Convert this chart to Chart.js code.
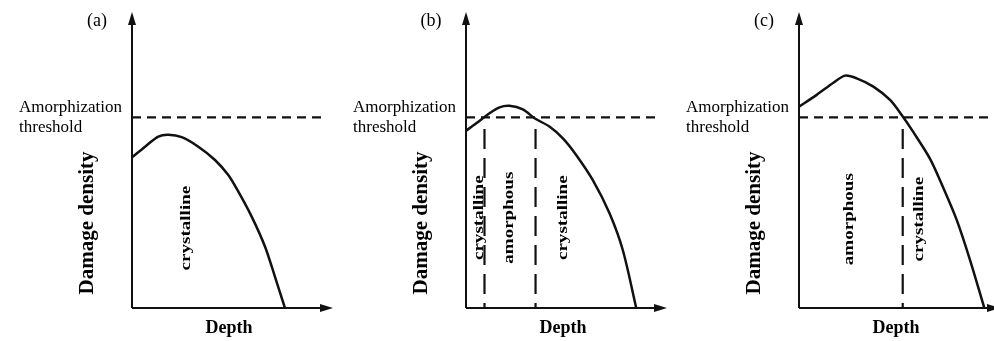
<!DOCTYPE html>
<html>
<head>
<meta charset="utf-8">
<script src="https://cdn.jsdelivr.net/npm/chart.js@4.4.1/dist/chart.umd.min.js"></script>
<style>
  html, body { margin: 0; padding: 0; background: #fff; overflow: hidden; }
  body { width: 994px; height: 341px; position: relative; }
  canvas { position: absolute; top: 0; }
</style>
</head>
<body>
<canvas id="panelA" width="340" height="341" style="left:0px"></canvas>
<canvas id="panelB" width="340" height="341" style="left:334px"></canvas>
<canvas id="panelC" width="340" height="341" style="left:667px"></canvas>
<script>
// damage profiles: depth vs damage density, both in relative units (0-100)
const depthA  = [0, 6.5, 13.1, 18.1, 24.7, 33, 41.3, 47.9, 52.9, 59.6, 66.2, 71.1, 76.1];
const damageA = [50.9, 54.5, 57.9, 58.5, 57.7, 54.5, 50, 44.9, 39.3, 30.8, 20.7, 10.6, 0];

const depthB  = [0, 5.1, 11.7, 16.7, 21.6, 28.3, 34.1, 41.5, 48.2, 54.8, 63.1, 71.4, 78, 84.7];
const damageB = [59.9, 62.4, 65.8, 67.8, 68.3, 67.1, 64.1, 61.3, 57.3, 51.7, 43.2, 32, 19.6, 0];

const depthC  = [0, 8.8, 17.1, 22.9, 28.7, 37, 45.3, 51.1, 56.9, 65.2, 71.8, 78.5, 85.1, 92.2];
const damageC = [68, 72, 76.1, 78.5, 77.6, 74.8, 70.3, 65.2, 59.4, 50.4, 40.6, 29.7, 16.2, 0];

// amorphization threshold level and how far the dashed line runs
const threshold = 64.4;
const thresholdEnd = [96, 96.5, 100];

// amorphous / crystalline boundaries (depth) and where they start
const boundariesA = [];
const boundariesB = [9.2, 34.6];
const boundariesC = [51.6];
const boundaryTop = 60.5;

const panelTags = ['(a)', '(b)', '(c)'];

const regionNamesA = ['crystalline'];
const regionDepthA = [27];
const regionNamesB = ['crystalline', 'amorphous', 'crystalline'];
const regionDepthB = [6.7, 21.6, 48.5];
const regionNamesC = ['amorphous', 'crystalline'];
const regionDepthC = [24.9, 59.7];
const regionLevel = [27, 30.5, 30];

const ink = '#111';
const serif = '"Liberation Serif", "DejaVu Serif", serif';

function arrowHead(ctx, x, y, dir) {
    ctx.beginPath();
    if (dir === 'up') {
        ctx.moveTo(x, y);
        ctx.lineTo(x - 4, y + 13);
        ctx.lineTo(x + 4, y + 13);
    } else {
        ctx.moveTo(x, y);
        ctx.lineTo(x - 13, y - 4);
        ctx.lineTo(x - 13, y + 4);
    }
    ctx.closePath();
    ctx.fill();
}

// axes with arrows plus all the labels
const frame = {
    id: 'frame',
    afterDatasetsDraw(chart, args, opts) {
        const ctx = chart.ctx;
        const xs = chart.scales.x, ys = chart.scales.y;
        const ox = xs.getPixelForValue(0), oy = ys.getPixelForValue(0);
        const top = ys.getPixelForValue(100), right = xs.getPixelForValue(100);

        ctx.save();
        ctx.strokeStyle = ink;
        ctx.fillStyle = ink;
        ctx.lineWidth = 2;
        ctx.setLineDash([]);
        ctx.beginPath();
        ctx.moveTo(ox, oy);
        ctx.lineTo(ox, top + 10);
        ctx.moveTo(ox, oy);
        ctx.lineTo(right - 10, oy);
        ctx.stroke();
        arrowHead(ctx, ox, top, 'up');
        arrowHead(ctx, right, oy, 'right');

        ctx.fillStyle = '#000';
        ctx.textBaseline = 'alphabetic';
        ctx.textAlign = 'center';
        ctx.font = '18px ' + serif;
        ctx.fillText(opts.tag, ox - 35, 26);

        ctx.textAlign = 'left';
        ctx.font = '17px ' + serif;
        ctx.fillText('Amorphization', ox - 113, 112);
        ctx.fillText('threshold', ox - 113, 132);

        ctx.textAlign = 'center';
        ctx.font = 'bold 18px ' + serif;
        ctx.fillText('Depth', ox + 97, 333);

        ctx.save();
        ctx.translate(ox - 44, 223);
        ctx.rotate(-Math.PI / 2);
        ctx.textBaseline = 'middle';
        ctx.font = 'bold 21px ' + serif;
        ctx.fillText('Damage density', 0, 0);
        ctx.restore();

        ctx.font = 'bold 15px ' + serif;
        ctx.textBaseline = 'middle';
        opts.regions.forEach((name, i) => {
            ctx.save();
            ctx.translate(xs.getPixelForValue(opts.regionDepth[i]), ys.getPixelForValue(opts.level));
            ctx.rotate(-Math.PI / 2);
            ctx.scale(1.27, 1);
            ctx.fillText(name, 0, 0);
            ctx.restore();
        });
        ctx.restore();
    }
};

function makePanel(id, depth, damage, idx, boundaries, regions, regionDepth) {
    const datasets = [{
        data: depth.map((d, i) => ({ x: d, y: damage[i] })),
        borderColor: ink,
        borderWidth: 2.5,
        tension: 0.3,
        showLine: true,
        pointRadius: 0,
        clip: false
    }, {
        data: [{ x: 0, y: threshold }, { x: thresholdEnd[idx], y: threshold }],
        borderColor: ink,
        borderWidth: 2.2,
        borderDash: [9, 6],
        showLine: true,
        pointRadius: 0,
        clip: false
    }];
    boundaries.forEach(b => {
        datasets.push({
            data: [{ x: b, y: boundaryTop }, { x: b, y: 0 }],
            borderColor: ink,
            borderWidth: 2.2,
            borderDash: [20, 9],
            showLine: true,
            pointRadius: 0,
            clip: false
        });
    });

    return new Chart(document.getElementById(id), {
        type: 'scatter',
        data: { datasets: datasets },
        options: {
            responsive: false,
            animation: false,
            events: [],
            layout: { padding: { left: 132, right: 7, top: 12, bottom: 33 } },
            scales: {
                x: { type: 'linear', min: 0, max: 100, display: false },
                y: { type: 'linear', min: 0, max: 100, display: false }
            },
            plugins: {
                legend: { display: false },
                tooltip: { enabled: false },
                frame: { tag: panelTags[idx], regions: regions, regionDepth: regionDepth, level: regionLevel[idx] }
            }
        },
        plugins: [frame]
    });
}

makePanel('panelA', depthA, damageA, 0, boundariesA, regionNamesA, regionDepthA);
makePanel('panelB', depthB, damageB, 1, boundariesB, regionNamesB, regionDepthB);
makePanel('panelC', depthC, damageC, 2, boundariesC, regionNamesC, regionDepthC);
</script>
</body>
</html>
